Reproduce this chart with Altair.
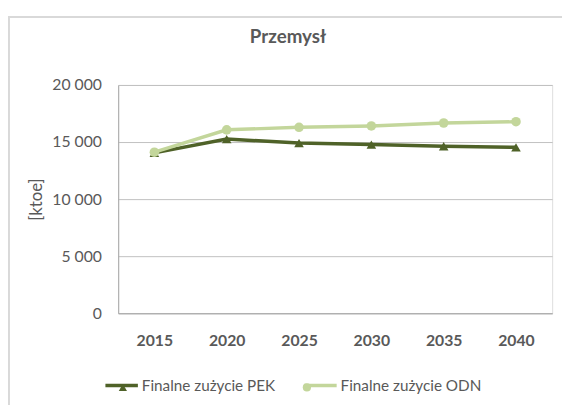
import altair as alt
import pandas as pd

years = [2015, 2020, 2025, 2030, 2035, 2040]
pek = [14050, 15260, 14910, 14780, 14630, 14540]
odn = [14110, 16070, 16290, 16410, 16670, 16780]
series_names = ["Finalne zużycie PEK", "Finalne zużycie ODN"]
marker_codes = ["PEK", "ODN"]
colors = ["#4f6228", "#c3d69b"]
shapes = ["triangle-up", "circle"]
y_ticks = [0, 5000, 10000, 15000, 20000]

rows = []
for name, code, vals in zip(series_names, marker_codes, [pek, odn]):
    for yr, v in zip(years, vals):
        rows.append({"year": str(yr), "value": v, "series": name, "marker": code})
df = pd.DataFrame(rows)

FONT = "Lato"
TXT = "#595959"

x_enc = alt.X("year:O", scale=alt.Scale(type="point", padding=0.5),
              axis=alt.Axis(title=None, labelFont=FONT, labelFontSize=16, labelFontWeight="bold",
                            labelColor=TXT, labelAngle=0, ticks=False, domainColor="#a6a6a6",
                            labelPadding=20, grid=False))
y_enc = alt.Y("value:Q", scale=alt.Scale(domain=[0, 20000], nice=False),
              axis=alt.Axis(title="[ktoe]", values=y_ticks, labelFont=FONT, labelFontSize=16,
                            labelColor=TXT, titleFont=FONT, titleFontSize=17, titleFontWeight="normal",
                            titleColor=TXT, titlePadding=6, ticks=False, labelPadding=17,
                            domainColor="#a6a6a6", gridColor="#c0c0c0",
                            labelExpr="replace(format(datum.value, ','), ',', ' ')"))

LEG_Y = 287
stroke_legend = alt.Legend(title=None, orient="none", legendX=-15, legendY=LEG_Y, direction="horizontal",
                           symbolType="stroke", symbolSize=1089, symbolStrokeWidth=3.5,
                           labelFont=FONT, labelFontSize=15.5, labelColor=TXT, labelOffset=2,
                           columnPadding=22)
shape_legend = alt.Legend(title=None, orient="none", legendX=-3, legendY=LEG_Y + 12.3, direction="horizontal",
                          symbolSize=70, symbolStrokeWidth=0,
                          labelExpr="datum.label == 'PEK' ? 'Finalne zużycie PEK' : 'Finalne zużycie ODN'",
                          labelFont=FONT, labelFontSize=15.5, labelColor="transparent", labelOffset=14,
                          columnPadding=22)

lines = alt.Chart(df).mark_line(strokeWidth=3.5).encode(
    x=x_enc, y=y_enc,
    stroke=alt.Stroke("series:N", scale=alt.Scale(domain=series_names, range=colors), legend=stroke_legend),
)
points = alt.Chart(df).mark_point(filled=True, size=95, opacity=1).encode(
    x=x_enc, y=y_enc,
    fill=alt.Fill("marker:N", scale=alt.Scale(domain=marker_codes, range=colors), legend=shape_legend),
    shape=alt.Shape("marker:N", scale=alt.Scale(domain=marker_codes, range=shapes), legend=shape_legend),
)

frame_df = pd.DataFrame([{"k": 1}])
frame = alt.Chart(frame_df).mark_rect(fillOpacity=0, stroke="#d9d9d9", strokeWidth=2).encode(
    x=alt.value(-111), x2=alt.value(700), y=alt.value(-69), y2=alt.value(400))

chart = alt.layer(frame, lines, points).properties(
    width=441, height=232,
    title=alt.TitleParams("Przemysł", font=FONT, fontSize=19, fontWeight="bold", color=TXT,
                          anchor="middle", frame="group", dx=-48, offset=-46, baseline="alphabetic"),
    autosize=alt.AutoSizeParams(type="none"),
    padding={"left": 112, "top": 75, "right": 10, "bottom": 90},
).configure_view(stroke=None).configure(background="white")

chart.save("out.html", embed_options={"renderer": "svg", "actions": False})
